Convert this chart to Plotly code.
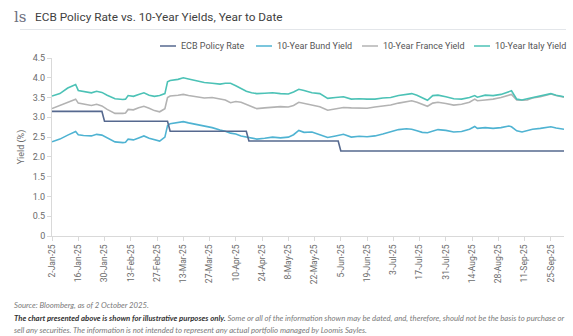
import numpy as np
import plotly.graph_objects as go

START = "2025-01-02"

# ---- data ----
ecb_dates = ["2025-01-02", "2025-01-29", "2025-01-30", "2025-03-05", "2025-03-06",
             "2025-04-16", "2025-04-17", "2025-06-04", "2025-06-05", "2025-10-02"]
ecb_rate = [3.15, 3.15, 2.90, 2.90, 2.65, 2.65, 2.40, 2.40, 2.15, 2.15]

yield_idx = [0, 3, 6, 9, 10, 12, 15, 17, 19, 21, 24, 27, 28, 29, 31, 33, 35, 37, 39, 41,
             43, 44, 45, 48, 50, 52, 55, 58, 61, 64, 66, 68, 70, 72, 74, 76, 78, 81, 84, 87,
             90, 92, 94, 96, 99, 102, 105, 108, 111, 114, 117, 120, 123, 126, 129, 132, 135,
             137, 139, 141, 143, 145, 147, 150, 153, 156, 159, 161, 162, 165, 168, 171, 174,
             175, 177, 179, 181, 183, 186, 189, 190, 192, 195]

bund = [2.38, 2.45, 2.55, 2.64, 2.56, 2.54, 2.53, 2.57, 2.55, 2.48, 2.38, 2.36, 2.37, 2.45,
        2.43, 2.48, 2.53, 2.47, 2.43, 2.40, 2.50, 2.79, 2.84, 2.86, 2.89, 2.86, 2.82, 2.78,
        2.74, 2.68, 2.65, 2.60, 2.58, 2.53, 2.50, 2.47, 2.45, 2.47, 2.50, 2.48, 2.50, 2.56,
        2.67, 2.62, 2.63, 2.56, 2.49, 2.53, 2.57, 2.50, 2.52, 2.51, 2.53, 2.58, 2.63, 2.69,
        2.71, 2.70, 2.66, 2.62, 2.61, 2.66, 2.69, 2.67, 2.63, 2.64, 2.70, 2.77, 2.72, 2.74,
        2.72, 2.74, 2.78, 2.76, 2.66, 2.63, 2.66, 2.70, 2.72, 2.75, 2.76, 2.73, 2.70]

france = [3.22, 3.30, 3.40, 3.46, 3.36, 3.33, 3.30, 3.33, 3.29, 3.20, 3.10, 3.10, 3.11, 3.20,
          3.19, 3.24, 3.28, 3.23, 3.17, 3.14, 3.22, 3.50, 3.54, 3.56, 3.58, 3.55, 3.52, 3.49,
          3.50, 3.47, 3.44, 3.37, 3.40, 3.38, 3.33, 3.26, 3.22, 3.24, 3.25, 3.27, 3.26, 3.30,
          3.38, 3.35, 3.31, 3.27, 3.18, 3.21, 3.25, 3.24, 3.24, 3.23, 3.26, 3.28, 3.31, 3.36,
          3.40, 3.42, 3.38, 3.32, 3.28, 3.36, 3.38, 3.35, 3.31, 3.33, 3.38, 3.46, 3.42, 3.44,
          3.46, 3.50, 3.56, 3.58, 3.44, 3.43, 3.44, 3.49, 3.52, 3.57, 3.59, 3.55, 3.51]

italy = [3.54, 3.60, 3.74, 3.83, 3.68, 3.65, 3.62, 3.66, 3.63, 3.56, 3.47, 3.45, 3.46, 3.55,
         3.53, 3.58, 3.62, 3.56, 3.53, 3.55, 3.60, 3.90, 3.93, 3.96, 4.00, 3.97, 3.92, 3.88,
         3.86, 3.84, 3.86, 3.86, 3.80, 3.72, 3.66, 3.62, 3.60, 3.61, 3.62, 3.60, 3.59, 3.64,
         3.71, 3.68, 3.62, 3.60, 3.48, 3.50, 3.52, 3.46, 3.47, 3.46, 3.46, 3.49, 3.50, 3.55,
         3.58, 3.60, 3.56, 3.50, 3.43, 3.55, 3.56, 3.52, 3.47, 3.46, 3.50, 3.55, 3.51, 3.56,
         3.55, 3.58, 3.64, 3.67, 3.46, 3.44, 3.47, 3.50, 3.54, 3.59, 3.60, 3.56, 3.52]

tick_dates = ["2025-01-02", "2025-01-16", "2025-01-30", "2025-02-13", "2025-02-27",
              "2025-03-13", "2025-03-27", "2025-04-10", "2025-04-24", "2025-05-08",
              "2025-05-22", "2025-06-05", "2025-06-19", "2025-07-03", "2025-07-17",
              "2025-07-31", "2025-08-14", "2025-08-28", "2025-09-11", "2025-09-25"]
tick_labels = ["2-Jan-25", "16-Jan-25", "30-Jan-25", "13-Feb-25", "27-Feb-25", "13-Mar-25",
               "27-Mar-25", "10-Apr-25", "24-Apr-25", "8-May-25", "22-May-25", "5-Jun-25",
               "19-Jun-25", "3-Jul-25", "17-Jul-25", "31-Jul-25", "14-Aug-25", "28-Aug-25",
               "11-Sep-25", "25-Sep-25"]

y_ticks = [0, 0.5, 1.0, 1.5, 2.0, 2.5, 3.0, 3.5, 4.0, 4.5]
y_tick_labels = ["0", "0.5", "1.0", "1.5", "2.0", "2.5", "3.0", "3.5", "4.0", "4.5"]

series_names = ["ECB Policy Rate", "10-Year Bund Yield", "10-Year France Yield", "10-Year Italy Yield"]
colors = ["#56698f", "#4fb3d2", "#b3b3b3", "#4cc2b6"]

# ---- business-day positions ----
def bday(dates):
    return np.busday_count(START, np.array(dates, dtype="datetime64[D]")).tolist()

ecb_x = bday(ecb_dates)
tick_x = bday(tick_dates)

W, H = 573, 336
L, R, T, B = 52, 9, 58, 100
PW, PH = W - L - R, H - T - B

def px(x):
    return (x - L) / PW

def py(y):
    return (H - B - y) / PH

fig = go.Figure()
# draw order: France, Bund, Italy, ECB
fig.add_trace(go.Scatter(x=yield_idx, y=france, mode="lines", name=series_names[2],
                         line=dict(color=colors[2], width=1.6)))
fig.add_trace(go.Scatter(x=yield_idx, y=bund, mode="lines", name=series_names[1],
                         line=dict(color=colors[1], width=1.6)))
fig.add_trace(go.Scatter(x=yield_idx, y=italy, mode="lines", name=series_names[3],
                         line=dict(color=colors[3], width=1.6)))
fig.add_trace(go.Scatter(x=ecb_x, y=ecb_rate, mode="lines", name=series_names[0],
                         line=dict(color=colors[0], width=1.6)))

font = "Roboto, Open Sans, sans-serif"
axis_grey = "#d9d9d9"
text_grey = "#6b6b6b"

fig.update_layout(
    width=W, height=H,
    margin=dict(l=L, r=R, t=T, b=B),
    paper_bgcolor="white", plot_bgcolor="white",
    showlegend=False,
    font=dict(family=font, size=9, color=text_grey),
    xaxis=dict(range=[0, 195], tickmode="array", tickvals=tick_x, ticktext=tick_labels,
               tickangle=-90, showgrid=False, zeroline=False, showline=True,
               linecolor=axis_grey, linewidth=1, ticks="outside", ticklen=4,
               tickcolor=axis_grey, tickfont=dict(size=8.5, color=text_grey)),
    yaxis=dict(range=[0, 4.5], tickmode="array", tickvals=y_ticks, ticktext=y_tick_labels,
               showgrid=False, zeroline=False, showline=True, linecolor=axis_grey,
               linewidth=1, ticks="outside", ticklen=4, tickcolor=axis_grey,
               tickfont=dict(size=9, color=text_grey),
               title=dict(text="Yield (%)", font=dict(size=9, color=text_grey), standoff=6)),
)

shapes = []
annotations = []

# header
annotations.append(dict(xref="paper", yref="paper", x=px(12), y=py(17), xanchor="left",
                        yanchor="middle", text="ls", showarrow=False,
                        font=dict(family="DejaVu Serif", size=15, color="#6c7080")))
annotations.append(dict(xref="paper", yref="paper", x=px(33), y=py(17), xanchor="left",
                        yanchor="middle", text="ECB Policy Rate vs. 10-Year Yields, Year to Date",
                        showarrow=False, font=dict(family=font, size=11.8, color="#3f3f3f")))
shapes.append(dict(type="line", xref="paper", yref="paper", x0=px(20), x1=px(566),
                   y0=py(29.5), y1=py(29.5), line=dict(color="#e3e6ea", width=1)))

# custom legend
leg_y = py(46)
leg_line_x = [160, 256, 362, 474]
for name, c, lx in zip(series_names, colors, leg_line_x):
    shapes.append(dict(type="line", xref="paper", yref="paper", x0=px(lx), x1=px(lx + 16),
                       y0=leg_y, y1=leg_y, line=dict(color=c, width=1.5)))
    annotations.append(dict(xref="paper", yref="paper", x=px(lx + 19), y=leg_y,
                            xanchor="left", yanchor="middle", text=name, showarrow=False,
                            font=dict(family=font, size=9, color="#555555")))

# footer
foot_font = dict(family="Lato, Open Sans, sans-serif", size=7.75, color="#7a7a7a")
annotations.append(dict(xref="paper", yref="paper", x=px(12), y=py(305), xanchor="left",
                        yanchor="middle", showarrow=False, font=foot_font,
                        text="<i>Source: Bloomberg, as of 2 October 2025.</i>"))
annotations.append(dict(xref="paper", yref="paper", x=px(12), y=py(318), xanchor="left",
                        yanchor="middle", showarrow=False, font=foot_font,
                        text="<b><i><span style='color:#333333'>The chart presented above is shown for illustrative purposes only.</span></i></b>"
                             "<i> Some or all of the information shown may be dated, and, therefore, should not be the basis to purchase or</i>"))
annotations.append(dict(xref="paper", yref="paper", x=px(12), y=py(330), xanchor="left",
                        yanchor="middle", showarrow=False, font=foot_font,
                        text="<i>sell any securities. The information is not intended to represent any actual portfolio managed by Loomis Sayles.</i>"))

fig.update_layout(shapes=shapes, annotations=annotations)
fig.write_html("out.html")
